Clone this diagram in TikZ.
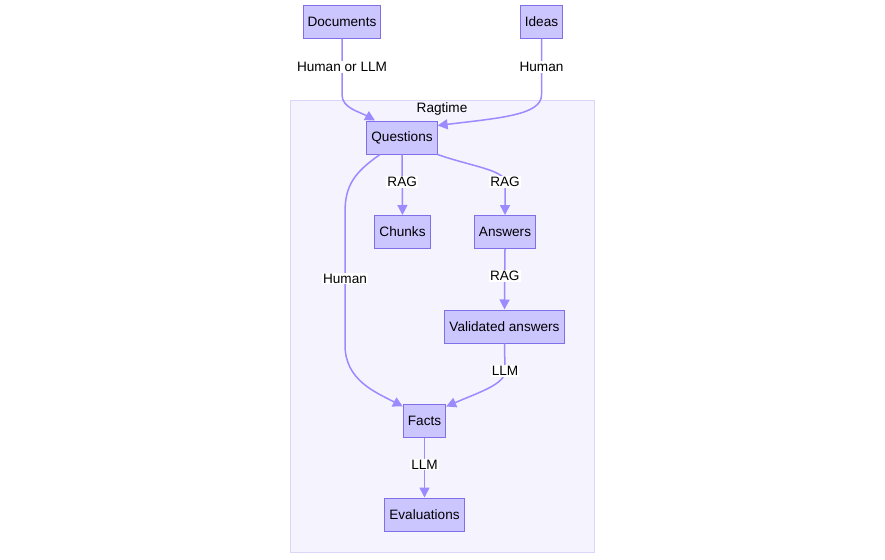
\documentclass[tikz,border=0pt]{standalone}
\usepackage{fontspec}
\setmainfont{Liberation Sans}
\usepackage{tikz}
\usepackage{xcolor}
\usetikzlibrary{arrows.meta, calc}

\definecolor{nodefill}{HTML}{CCC6FF}
\definecolor{nodeline}{HTML}{7F6FE8}
\definecolor{flowcol}{HTML}{9C8AFF}
\definecolor{groupfill}{HTML}{F4F3FE}
\definecolor{groupline}{HTML}{DAD6F8}

\begin{document}
\begin{tikzpicture}[x=1pt, y=-1pt,
  font=\fontsize{13.6}{16}\selectfont,
  nodebox/.style={draw=nodeline, fill=nodefill, line width=1pt, minimum height=33pt, inner xsep=4.5pt, inner ysep=0pt},
  flowline/.style={draw=flowcol, line width=1.5pt, -{Triangle[length=10pt, width=10pt]}},
  flowlabel/.style={fill=white, inner sep=1pt}]

\useasboundingbox (0,0) rectangle (885,559);

% group
\draw[fill=groupfill, draw=groupline] (290,100) rectangle (594,552);
\node (ragtime) at (442,109) {Ragtime};

% nodes
\node[nodebox] (docs) at (342,22) {Documents};
\node[nodebox] (ideas) at (541.5,22) {Ideas};
\node[nodebox] (ques) at (402,137.5) {Questions};
\node[nodebox] (chunks) at (402.5,232) {Chunks};
\node[nodebox] (ans) at (505,232) {Answers};
\node[nodebox] (valid) at (504.5,326.5) {Validated answers};
\node[nodebox] (facts) at (424.5,420.5) {Facts};
\node[nodebox] (evals) at (424.5,514.5) {Evaluations};

% connectors
\draw[flowline] (docs.south) -- node[flowlabel] {Human or LLM} (342,95)
  .. controls (342,108) and (360,112) .. ($(ques.north)+(-27,0)$);
\draw[flowline] (ideas.south) -- node[flowlabel] {Human} (541.5,95)
  .. controls (541.5,115) and (500,118) .. ($(ques.north east)+(0,5)$);
\draw[flowline] (ques.south) -- node[flowlabel, pos=0.45] {RAG} (chunks.north);
\draw[flowline] (ques.south east) .. controls (470,166) and (505,170) .. (505,182)
  -- node[flowlabel, pos=0] {RAG} (ans.north);
\draw[flowline] ($(ques.south)+(-22,0)$) .. controls (355,172) and (345,185) .. (345,212)
  -- node[flowlabel] {Human} (345,345)
  .. controls (345,380) and (375,392) .. ($(facts.north west)+(0,3)$);
\draw[flowline] (ans.south) -- node[flowlabel, pos=0.45] {RAG} (valid.north);
\draw[flowline] (valid.south) -- (505,371)
  .. controls (505,384) and (480,392) .. ($(facts.north east)+(0,3)$);
\node[flowlabel] (llmone) at (505,371) {LLM};
\draw[flowline] (facts.south) -- node[flowlabel, pos=0.45] {LLM} (evals.north);

\end{tikzpicture}
\end{document}
